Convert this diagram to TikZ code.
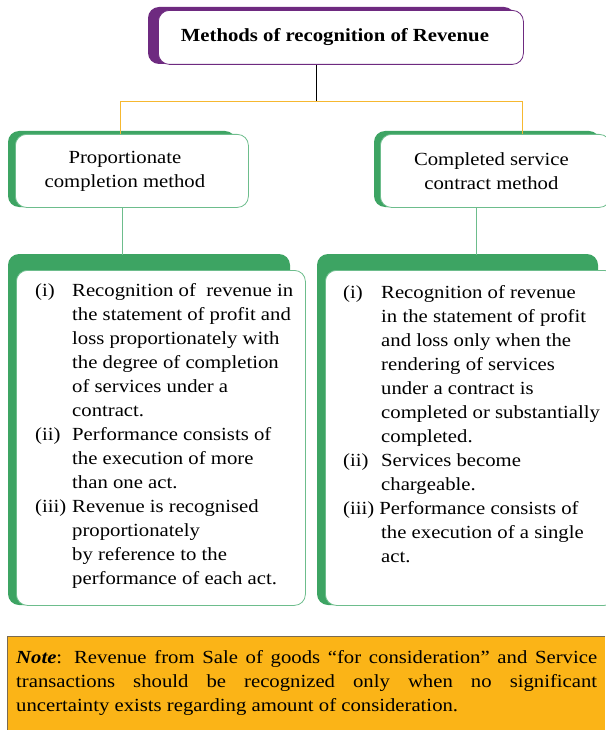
\documentclass[tikz,border=0pt]{standalone}
\usepackage{fontspec}
\setmainfont[FakeStretch=1.12]{Liberation Serif}
\usetikzlibrary{calc}
\definecolor{purp}{HTML}{6E2A80}
\definecolor{grn}{HTML}{3DA463}
\definecolor{grnl}{HTML}{6DBD8C}
\definecolor{orgl}{HTML}{F6B830}
\definecolor{notefill}{HTML}{FBB417}
\definecolor{noteline}{HTML}{7A6A50}
\newcommand{\bodyfont}{\fontsize{18.5}{24}\selectfont}
\tikzset{
  whitebox/.style={draw, fill=white, rounded corners=11pt, line width=0.8pt, inner sep=0pt},
  shadowbox/.style={rounded corners=11pt},
  bodytext/.style={anchor=north west, inner sep=0pt, font=\bodyfont},
}
\begin{document}
\begin{tikzpicture}[x=1pt,y=-1pt]
\useasboundingbox (0,0) rectangle (605,730);
% title
\fill[purp, shadowbox] (148,7) rectangle (515,64);
\node[whitebox, draw=purp, anchor=north west, minimum width=365pt, minimum height=54pt,
  font=\fontsize{18.5}{20}\selectfont\bfseries] (title) at (158,10) {\hspace{-12pt}Methods of recognition of Revenue};
% second level
\fill[grn, shadowbox] (8,131) rectangle (236,207);
\node[whitebox, draw=grnl, anchor=north west, minimum width=233pt, minimum height=73pt,
  align=center, font=\bodyfont] (pm) at (15,134) {\hspace{-14pt}Proportionate\\\hspace{-14pt}completion method};
\fill[grn, shadowbox] (374,131) rectangle (600,207);
\node[whitebox, draw=grnl, anchor=north west, minimum width=230pt, minimum height=73pt,
  align=center, font=\bodyfont] (cm) at (380,134) {\hspace{-8pt}Completed service\\\hspace{-8pt}contract method};
% third level
\fill[grn, shadowbox] (8,254) rectangle (290,605);
\node[whitebox, draw=grnl, anchor=north west, minimum width=289pt, minimum height=335pt] (lb) at (16,270) {};
\fill[grn, shadowbox] (317,254) rectangle (598,605);
\node[whitebox, draw=grnl, anchor=north west, minimum width=290pt, minimum height=335pt] (rb) at (325,270) {};
% connectors
\coordinate (j) at (316,101);
\coordinate (jl) at (120,101);
\coordinate (jr) at (522,101);
\draw[black, line width=0.8pt] (title.south -| j) -- (j);
\draw[orgl, line width=0.8pt] (pm.north -| jl) -- (jl) -- (jr) -- (cm.north -| jr);
\coordinate (pl) at (122,255);
\coordinate (pr) at (476,255);
\draw[grnl, line width=0.8pt] (pm.south -| pl) -- (pl);
\draw[grnl, line width=0.8pt] (cm.south -| pr) -- (pr);
% left text
\node[bodytext] (lt) at (35,279) {%
\begin{tabular}{@{}p{37pt}@{}l@{}}
(i) & Recognition of\ \ revenue in\\
 & the statement of profit and\\
 & loss proportionately with\\
 & the degree of completion\\
 & of services under a\\
 & contract.\\
(ii) & Performance consists of\\
 & the execution of more\\
 & than one act.\\
(iii) & Revenue is recognised\\
 & proportionately\\
 & by reference to the\\
 & performance of each act.
\end{tabular}};
% right text
\node[bodytext] (rt) at (343,281) {%
\begin{tabular}{@{}p{38pt}@{}l@{}}
(i) & Recognition of revenue\\
 & in the statement of profit\\
 & and loss only when the\\
 & rendering of services\\
 & under a contract is\\
 & completed or substantially\\
 & completed.\\
(ii) & Services become\\
 & chargeable.\\
\multicolumn{2}{@{}l@{}}{(iii) Performance consists of}\\
 & the execution of a single\\
 & act.
\end{tabular}};
% note
\fill[notefill] (7,636) rectangle (605,730);
\draw[noteline, line width=0.8pt] (605,636) -- (7,636) -- (7,730);
\node[anchor=north west, inner sep=0pt] (note) at (16,650) {%
\parbox{581pt}{\bodyfont\textbf{\textit{Note}}: Revenue from Sale of goods “for consideration” and Service\linebreak transactions should be recognized only when no significant\linebreak uncertainty exists regarding amount of consideration.}};
\end{tikzpicture}
\end{document}
